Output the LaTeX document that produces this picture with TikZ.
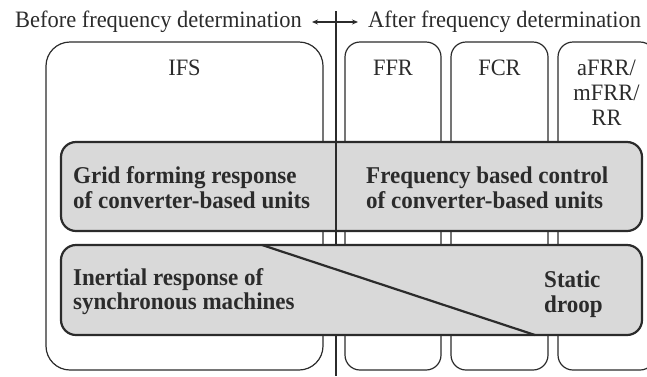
\documentclass[tikz,border=0pt]{standalone}
\usepackage{fontspec}
\setmainfont{Liberation Serif}[FakeStretch=0.955]
\usetikzlibrary{arrows.meta}
\definecolor{inkgrey}{HTML}{2B2B2B}
\definecolor{panelgrey}{HTML}{D9D9D9}
\begin{document}
\begin{tikzpicture}[x=1pt,y=-1pt,
  lane/.style={draw=inkgrey, line width=1.2pt, inner sep=0pt, rounded corners=15pt},
  panel/.style={draw=inkgrey, fill=panelgrey, line width=2.2pt, inner sep=0pt, rounded corners=15pt},
  head/.style={font=\fontsize{23.5}{26}\selectfont, text=inkgrey, inner sep=0pt},
  lbl/.style={font=\fontsize{23.5}{26}\selectfont, text=inkgrey, inner sep=0pt, anchor=base},
  bold/.style={font=\fontsize{24.1}{26}\selectfont\bfseries, text=inkgrey, inner sep=0pt, anchor=base west},
  split/.style={draw=inkgrey, line width=2.2pt}]
\useasboundingbox (0,0) rectangle (647,376);
\clip (0,0) rectangle (647,376);

% heading with the time arrow
\node[head, anchor=base east] (before) at (302,27) {Before frequency determination};
\node[head, anchor=base west] (after) at (368,27) {After frequency determination};
\coordinate (arrL) at (312,22);
\coordinate (arrR) at (358,22);
\draw[inkgrey, line width=1.2pt, {Stealth[length=6pt,width=5pt]}-{Stealth[length=6pt,width=5pt]}] (arrL) -- (arrR);

% service lanes
\node[lane, rounded corners=24pt, minimum width=277pt, minimum height=328pt] (ifs) at (184.5,206) {};
\node[lane, minimum width=96pt, minimum height=328pt] (ffr) at (393,206) {};
\node[lane, minimum width=97pt, minimum height=328pt] (fcr) at (499.5,206) {};
\node[lane, minimum width=97pt, minimum height=328pt] (rr) at (606.5,206) {};

\node[lbl] (ifsl) at (184.5,75) {IFS};
\node[lbl] (ffrl) at (393,75) {FFR};
\node[lbl] (fcrl) at (499.5,75) {FCR};
\node[lbl] (rrl1) at (606.5,75) {aFRR/};
\node[lbl] (rrl2) at (606.5,100) {mFRR/};
\node[lbl] (rrl3) at (606.5,125) {RR};

% boundary between the two time frames
\coordinate (vtop) at (336,11);
\coordinate (vbot) at (336,376);
\draw[inkgrey, line width=1.3pt] (vtop) -- (vbot);

% converter-based units
\node[panel, minimum width=581pt, minimum height=89pt] (conv) at (351.5,186.5) {};
\draw[split] (conv.north -| vtop) -- (conv.south -| vtop);
\node[bold] (gf1) at (73,183) {Grid forming response};
\node[bold] (gf2) at (73,208) {of converter-based units};
\node[bold] (fb1) at (366,183) {Frequency based control};
\node[bold] (fb2) at (366,208) {of converter-based units};

% synchronous machines
\node[panel, minimum width=581pt, minimum height=90pt] (sync) at (351.5,290) {};
\coordinate (diagA) at (262,245);
\coordinate (diagB) at (535,335);
\draw[split] (diagA) -- (diagB);
\node[bold] (ir1) at (73,285) {Inertial response of};
\node[bold] (ir2) at (73,309) {synchronous machines};
\node[bold] (sd1) at (544,287) {Static};
\node[bold] (sd2) at (544,312) {droop};
\end{tikzpicture}
\end{document}
